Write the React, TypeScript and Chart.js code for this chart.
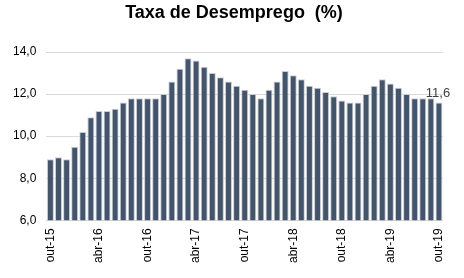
import React, { useEffect, useRef } from "react";
import { Chart, registerables } from "chart.js";

Chart.register(...registerables);

const categories = [
  "out-15", "nov-15", "dez-15",
  "jan-16", "fev-16", "mar-16", "abr-16", "mai-16", "jun-16", "jul-16", "ago-16", "set-16", "out-16", "nov-16", "dez-16",
  "jan-17", "fev-17", "mar-17", "abr-17", "mai-17", "jun-17", "jul-17", "ago-17", "set-17", "out-17", "nov-17", "dez-17",
  "jan-18", "fev-18", "mar-18", "abr-18", "mai-18", "jun-18", "jul-18", "ago-18", "set-18", "out-18", "nov-18", "dez-18",
  "jan-19", "fev-19", "mar-19", "abr-19", "mai-19", "jun-19", "jul-19", "ago-19", "set-19", "out-19",
];

const unemployment = [
  8.9, 9.0, 8.9,
  9.5, 10.2, 10.9, 11.2, 11.2, 11.3, 11.6, 11.8, 11.8, 11.8, 11.8, 12.0,
  12.6, 13.2, 13.7, 13.6, 13.3, 13.0, 12.8, 12.6, 12.4, 12.2, 12.0, 11.8,
  12.2, 12.6, 13.1, 12.9, 12.7, 12.4, 12.3, 12.1, 11.9, 11.7, 11.6, 11.6,
  12.0, 12.4, 12.7, 12.5, 12.3, 12.0, 11.8, 11.8, 11.8, 11.6,
];

const yTicks = [6, 8, 10, 12, 14];
const titleText = "Taxa de Desemprego  (%)";

const FONT = "'Liberation Sans', Arial, sans-serif";

const fmt = (v: number) => v.toFixed(1).replace(".", ",");

const overlayPlugin = {
  id: "overlay",
  afterDraw(chart: any) {
    const ctx = chart.ctx;
    ctx.save();
    ctx.font = `bold 18px ${FONT}`;
    ctx.fillStyle = "#000000";
    ctx.textAlign = "center";
    ctx.textBaseline = "alphabetic";
    ctx.fillText(titleText, 234, 18);
    const meta = chart.getDatasetMeta(0);
    const idx = unemployment.length - 1;
    const bar = meta.data[idx];
    if (bar) {
      ctx.font = `13px ${FONT}`;
      ctx.fillStyle = "#404040";
      ctx.textAlign = "center";
      ctx.textBaseline = "alphabetic";
      ctx.fillText(fmt(unemployment[idx]), bar.x - 1, bar.y - 5);
    }
    ctx.restore();
  },
};

export default function App() {
  const ref = useRef<HTMLCanvasElement>(null);
  useEffect(() => {
    document.body.style.margin = "0";
    const chart = new Chart(ref.current!, {
      type: "bar",
      data: {
        labels: categories,
        datasets: [
          {
            data: unemployment,
            backgroundColor: "#44546A",
            borderColor: "#c9ced6",
            borderWidth: 1,
            barPercentage: 0.86,
            categoryPercentage: 1,
          },
        ],
      },
      options: {
        animation: false,
        responsive: false,
        maintainAspectRatio: false,
        layout: { padding: { left: 3, right: 21, top: 52, bottom: 7 } },
        plugins: {
          legend: { display: false },
          tooltip: { enabled: false },
          title: { display: false },
        },
        scales: {
          x: {
            grid: { display: false, drawTicks: false },
            border: { display: false },
            ticks: {
              autoSkip: false,
              minRotation: 90,
              maxRotation: 90,
              padding: 8,
              color: "#000000",
              font: { family: FONT, size: 12 },
              callback: (_v: any, i: number) => (i % 6 === 0 ? categories[i] : ""),
            },
          },
          y: {
            min: 6,
            max: 14,
            afterBuildTicks: (axis: any) => {
              axis.ticks = yTicks.map((v) => ({ value: v }));
            },
            grid: { color: "#d9d9d9", drawTicks: false, lineWidth: 1 },
            border: { display: false },
            ticks: {
              padding: 10,
              color: "#000000",
              font: { family: FONT, size: 12 },
              callback: (v: any) => fmt(Number(v)),
            },
          },
        },
      },
      plugins: [overlayPlugin],
    });
    return () => chart.destroy();
  }, []);
  return <canvas ref={ref} width={464} height={278} style={{ display: "block" }} />;
}
